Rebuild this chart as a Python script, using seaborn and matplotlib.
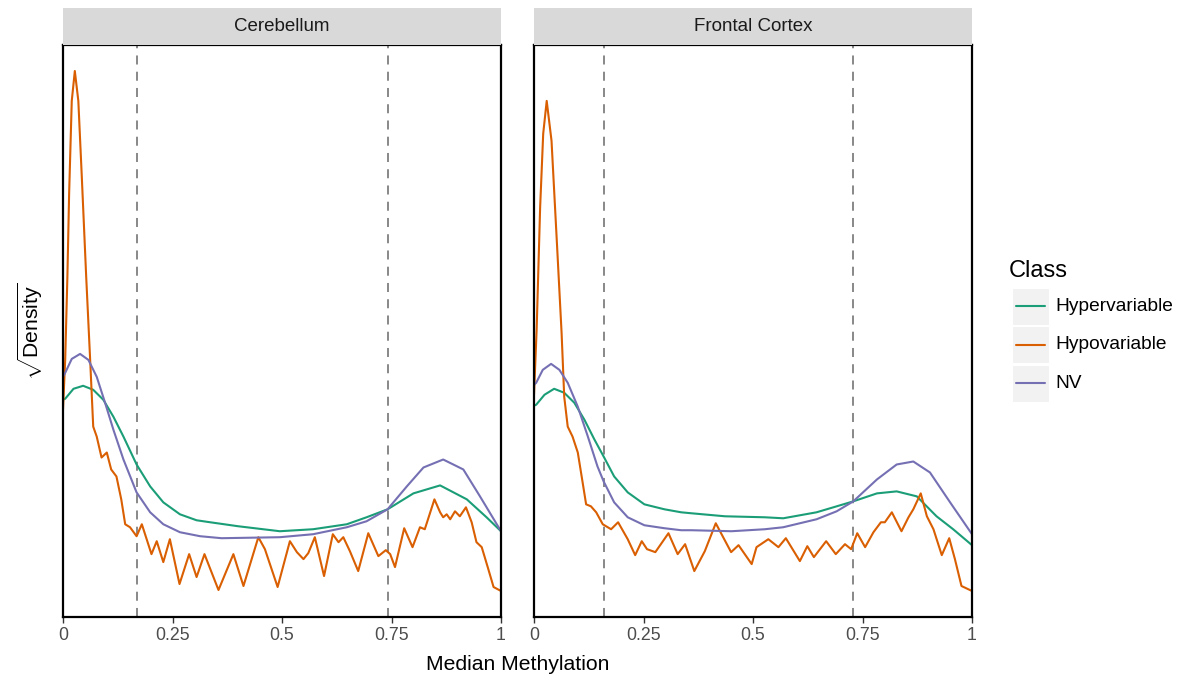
import numpy as np
import pandas as pd
import matplotlib
matplotlib.use('Agg')
import matplotlib.pyplot as plt
from matplotlib.lines import Line2D
from matplotlib.patches import Rectangle
import seaborn as sns

sns.set_style('white')
plt.rcParams['font.family'] = ['Liberation Sans', 'DejaVu Sans']
plt.rcParams['mathtext.fontset'] = 'custom'
plt.rcParams['mathtext.rm'] = 'Liberation Sans'

tissues = ['Cerebellum', 'Frontal Cortex']
classes = ['Hypervariable', 'Hypovariable', 'NV']
palette = {'Hypervariable': '#1B9E77', 'Hypovariable': '#D95F02', 'NV': '#7570B3'}
cutoffs = {'Cerebellum': [0.168, 0.741], 'Frontal Cortex': [0.159, 0.729]}

# sqrt(density)
cer_hyper_x = [0, 0.005, 0.024, 0.046, 0.069, 0.092, 0.115, 0.138, 0.168, 0.199, 0.229,
               0.267, 0.305, 0.336, 0.40, 0.495, 0.571, 0.648, 0.693, 0.741, 0.80,
               0.861, 0.922, 0.967, 1.0]
cer_hyper_y = [2.20, 2.21, 2.31, 2.34, 2.30, 2.20, 2.03, 1.83, 1.55, 1.33, 1.17,
               1.05, 0.99, 0.97, 0.93, 0.88, 0.90, 0.95, 1.02, 1.10, 1.26,
               1.34, 1.20, 1.02, 0.88]
cer_nv_x = [0, 0.005, 0.02, 0.039, 0.058, 0.077, 0.096, 0.115, 0.138, 0.168, 0.199, 0.229,
            0.267, 0.313, 0.362, 0.495, 0.571, 0.648, 0.693, 0.741, 0.785, 0.823, 0.868,
            0.914, 0.952, 1.0]
cer_nv_y = [2.43, 2.47, 2.61, 2.66, 2.60, 2.43, 2.17, 1.90, 1.60, 1.27, 1.07, 0.95,
            0.87, 0.83, 0.81, 0.82, 0.85, 0.92, 0.98, 1.10, 1.33, 1.52, 1.60,
            1.50, 1.23, 0.88]
cer_hypo_x = [0, 0.005, 0.01, 0.014, 0.02, 0.027, 0.035, 0.043, 0.053, 0.062, 0.069, 0.077,
              0.088, 0.10, 0.11, 0.122, 0.133, 0.142, 0.153, 0.168, 0.18, 0.202, 0.214,
              0.229, 0.244, 0.266, 0.288, 0.305, 0.323, 0.355, 0.389, 0.412, 0.446, 0.461,
              0.49, 0.518, 0.534, 0.549, 0.56, 0.575, 0.596, 0.616, 0.629, 0.64, 0.655,
              0.674, 0.697, 0.72, 0.737, 0.747, 0.758, 0.779, 0.798, 0.815, 0.826, 0.848,
              0.861, 0.868, 0.876, 0.884, 0.895, 0.906, 0.92, 0.933, 0.944, 0.956, 0.971,
              0.983, 1.0]
cer_hypo_y = [2.10, 2.60, 3.43, 4.27, 5.20, 5.50, 5.20, 4.43, 3.43, 2.60, 1.93, 1.83,
              1.62, 1.67, 1.50, 1.43, 1.20, 0.95, 0.92, 0.83, 0.95, 0.65, 0.78,
              0.57, 0.80, 0.35, 0.65, 0.42, 0.65, 0.29, 0.65, 0.33, 0.82, 0.70,
              0.32, 0.78, 0.67, 0.60, 0.66, 0.82, 0.43, 0.85, 0.77, 0.82, 0.68,
              0.48, 0.86, 0.63, 0.69, 0.65, 0.52, 0.91, 0.72, 0.92, 0.90, 1.20,
              1.07, 1.02, 1.05, 1.00, 1.08, 1.03, 1.12, 0.97, 0.77, 0.72, 0.50,
              0.32, 0.28]

fc_hyper_x = [0, 0.005, 0.024, 0.046, 0.069, 0.092, 0.115, 0.138, 0.159, 0.183, 0.214,
              0.252, 0.298, 0.336, 0.36, 0.436, 0.527, 0.569, 0.645, 0.691, 0.729, 0.783,
              0.828, 0.874, 0.919, 0.957, 1.0]
fc_hyper_y = [2.14, 2.15, 2.25, 2.31, 2.27, 2.17, 2.00, 1.80, 1.63, 1.43, 1.27,
              1.15, 1.10, 1.07, 1.06, 1.03, 1.02, 1.01, 1.07, 1.13, 1.18, 1.26,
              1.28, 1.23, 1.03, 0.90, 0.74]
fc_nv_x = [0, 0.005, 0.02, 0.039, 0.058, 0.077, 0.10, 0.123, 0.145, 0.159, 0.183, 0.214,
           0.252, 0.298, 0.336, 0.36, 0.451, 0.527, 0.569, 0.645, 0.691, 0.729, 0.783,
           0.828, 0.866, 0.904, 0.95, 1.0]
fc_nv_y = [2.35, 2.37, 2.50, 2.56, 2.50, 2.37, 2.13, 1.83, 1.53, 1.38, 1.17, 1.02,
           0.94, 0.91, 0.89, 0.89, 0.88, 0.90, 0.92, 1.00, 1.08, 1.18, 1.40,
           1.55, 1.58, 1.47, 1.17, 0.85]
fc_hypo_x = [0, 0.006, 0.014, 0.021, 0.029, 0.04, 0.052, 0.063, 0.069, 0.077, 0.088, 0.10,
             0.111, 0.119, 0.13, 0.142, 0.157, 0.176, 0.192, 0.214, 0.231, 0.246, 0.258,
             0.277, 0.307, 0.328, 0.345, 0.366, 0.39, 0.415, 0.45, 0.467, 0.497, 0.508,
             0.535, 0.558, 0.575, 0.607, 0.624, 0.639, 0.667, 0.689, 0.71, 0.724, 0.738,
             0.756, 0.775, 0.792, 0.801, 0.817, 0.839, 0.855, 0.866, 0.883, 0.897, 0.912,
             0.931, 0.948, 0.961, 0.976, 1.0]
fc_hypo_y = [2.25, 2.90, 4.13, 4.87, 5.20, 4.80, 3.80, 2.87, 2.23, 1.93, 1.83, 1.67,
             1.37, 1.15, 1.13, 1.07, 0.95, 0.90, 0.97, 0.80, 0.64, 0.78, 0.70,
             0.67, 0.86, 0.65, 0.75, 0.48, 0.68, 0.96, 0.67, 0.74, 0.55, 0.72,
             0.80, 0.72, 0.81, 0.58, 0.73, 0.62, 0.78, 0.65, 0.75, 0.70, 0.86,
             0.72, 0.87, 0.97, 0.97, 1.07, 0.88, 1.02, 1.10, 1.26, 1.03, 0.90,
             0.64, 0.81, 0.60, 0.33, 0.28]

curves = {
    ('Cerebellum', 'Hypervariable'): (cer_hyper_x, cer_hyper_y),
    ('Cerebellum', 'Hypovariable'): (cer_hypo_x, cer_hypo_y),
    ('Cerebellum', 'NV'): (cer_nv_x, cer_nv_y),
    ('Frontal Cortex', 'Hypervariable'): (fc_hyper_x, fc_hyper_y),
    ('Frontal Cortex', 'Hypovariable'): (fc_hypo_x, fc_hypo_y),
    ('Frontal Cortex', 'NV'): (fc_nv_x, fc_nv_y),
}

rows = []
for (tissue, cls), (xs, ys) in curves.items():
    for x, y in zip(xs, ys):
        rows.append({'tissue': tissue, 'Class': cls, 'methylation': x, 'sqrt_density': y})
df = pd.DataFrame(rows)

W, H = 1183, 685
fig = plt.figure(figsize=(W / 100, H / 100), dpi=100)

panel_left = [63, 534]
panel_w = 438
top, bottom = 45, 617
ymin = df['sqrt_density'].min()
ymax = df['sqrt_density'].max()
pad = 0.05 * (ymax - ymin)

for tissue, px in zip(tissues, panel_left):
    ax = fig.add_axes([px / W, (H - bottom) / H, panel_w / W, (bottom - top) / H])
    sub = df[df['tissue'] == tissue]
    sns.lineplot(data=sub, x='methylation', y='sqrt_density', hue='Class',
                 hue_order=classes, palette=palette, linewidth=1.5,
                 estimator=None, legend=False, ax=ax)
    for line in ax.get_lines():
        line.set_solid_joinstyle('round')
    for c in cutoffs[tissue]:
        ax.axvline(c, color='#7F7F7F', linestyle=(0, (5, 4)), linewidth=1.3, zorder=0)
    ax.set_xlim(0, 1)
    ax.set_ylim(ymin - pad, ymax + pad)
    ax.set_xticks([0, 0.25, 0.5, 0.75, 1])
    ax.set_xticklabels(['0', '0.25', '0.5', '0.75', '1'])
    ax.set_yticks([])
    ax.set_xlabel('')
    ax.set_ylabel('')
    ax.tick_params(axis='x', length=4, width=1, color='#333333', labelcolor='#4D4D4D',
                   labelsize=12.8, pad=3, bottom=True)
    for s in ax.spines.values():
        s.set_color('black')
        s.set_linewidth(1.6)

    strip = fig.add_axes([px / W, (H - top) / H, panel_w / W, 37 / H])
    strip.set_facecolor('#D9D9D9')
    strip.set_xticks([])
    strip.set_yticks([])
    for s in strip.spines.values():
        s.set_visible(False)
    strip.text(0.5, 0.5, tissue, ha='center', va='center', fontsize=13.5, color='#1A1A1A')

fig.text(517.5 / W, 1 - 665 / H, 'Median Methylation', ha='center', va='center',
         fontsize=15.2, color='black')
fig.text(30 / W, 1 - 331 / H, r'$\sqrt{\mathrm{Density}}$', ha='center', va='center',
         rotation=90, fontsize=15.2, color='black')

# legend drawn ggplot-style: grey key boxes
fig.text(1009 / W, 1 - 271 / H, 'Class', ha='left', va='center', fontsize=17, color='black')
for i, cls in enumerate(classes):
    ky = 288 + 38.5 * i
    fig.add_artist(Rectangle((1012 / W, 1 - (ky + 36.5) / H), 36.5 / W, 36.5 / H,
                             transform=fig.transFigure, facecolor='#F2F2F2',
                             edgecolor='white', linewidth=0.8))
    cy = ky + 18.25
    fig.add_artist(Line2D([1015.5 / W, 1045 / W], [1 - cy / H, 1 - cy / H],
                          transform=fig.transFigure, color=palette[cls], linewidth=1.5))
    fig.text(1055 / W, 1 - cy / H, cls, ha='left', va='center', fontsize=13.8,
             color='black')

fig.savefig('out.png', dpi=100)
